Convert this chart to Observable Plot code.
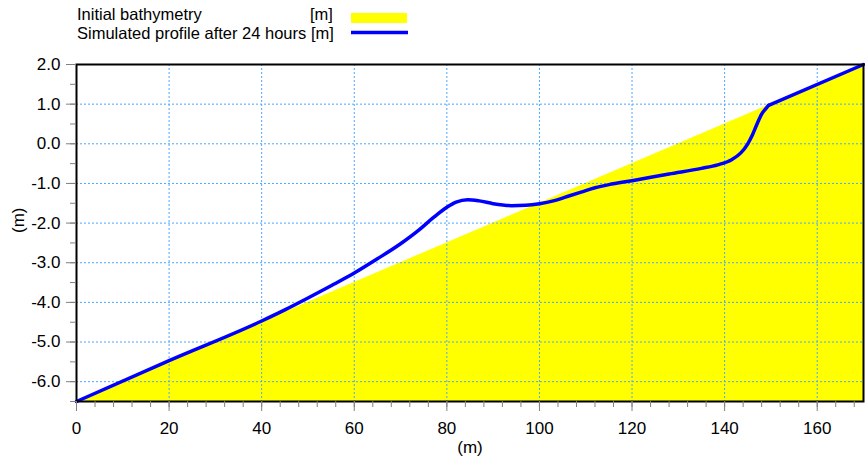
<!DOCTYPE html>
<html><head><meta charset="utf-8">
<script src="https://cdn.jsdelivr.net/npm/d3@7"></script>
<script src="https://cdn.jsdelivr.net/npm/@observablehq/plot@0.6"></script>
<style>
body{margin:0;background:#fff;font-family:"Liberation Sans",Arial,sans-serif;}
#legend{display:block;}
#chart svg{display:block;}
</style></head><body>
<svg id="legend" width="865" height="46" style="font-family:'Liberation Sans',Arial,sans-serif;font-size:16.5px;">
  <text x="77" y="20">Initial bathymetry</text>
  <text x="310" y="20">[m]</text>
  <rect x="351" y="13" width="56" height="10" fill="#ffff00"></rect>
  <text x="77" y="39">Simulated profile after 24 hours [m]</text>
  <line x1="351" x2="408" y1="32.5" y2="32.5" stroke="#0000ff" stroke-width="3.5"></line>
</svg>
<div id="chart"></div>
<script>
// Initial bathymetry (straight slope)
const bathX = [0, 170];
const bathY = [-6.5, 2.0];
// Simulated profile after 24 hours: curved part (smooth) ...
const profX = [0, 20, 40, 45, 50, 55, 60, 65, 70, 74, 77, 80, 82, 84.5, 87, 90, 94, 97, 100, 103, 106, 109, 112, 115, 120, 128, 135, 138.5, 141.5, 143.5, 145, 146, 147, 148, 149, 149.5];
const profY = [-6.5, -5.47, -4.47, -4.19, -3.89, -3.58, -3.26, -2.9, -2.52, -2.17, -1.87, -1.6, -1.47, -1.41, -1.44, -1.51, -1.56, -1.55, -1.51, -1.44, -1.33, -1.22, -1.11, -1.03, -0.93, -0.76, -0.62, -0.53, -0.4, -0.23, 0.0, 0.22, 0.5, 0.75, 0.9, 0.97];
// ... and the straight upper part that sits on the initial slope
const topX = [149.5, 170];
const topY = [0.97, 2.0];
// Axes
const xDomain = [0, 170];
const yDomain = [-6.5, 2.0];
const xMajor = [0, 20, 40, 60, 80, 100, 120, 140, 160];
const xMinor = d3.range(0, 171, 4);
const yMajor = [-6, -5, -4, -3, -2, -1, 0, 1, 2];
const yMinor = d3.range(-6.5, 2.01, 0.5);
const xGrid = xMajor.filter(d => d > xDomain[0] && d < xDomain[1]);
const yGrid = yMajor.filter(d => d > yDomain[0] && d < yDomain[1]);
const axisTitle = ["(m)"];

const bath = bathX.map((x, i) => ({x, y: bathY[i]}));
const prof = profX.map((x, i) => ({x, y: profY[i]}));
const top2 = topX.map((x, i) => ({x, y: topY[i]}));

const gridStyle = {stroke: "#4da6ff", strokeOpacity: 1, strokeWidth: 1, strokeDasharray: "2,2"};
const tickColor = "#808080";

const plot = Plot.plot({
  width: 865, height: 414,
  marginTop: 18, marginBottom: 59, marginLeft: 76, marginRight: 2,
  style: {fontFamily: "'Liberation Sans', Arial, sans-serif", fontSize: "17px", color: "#000", background: "#fff", overflow: "visible"},
  x: {domain: xDomain, label: null},
  y: {domain: yDomain, label: null},
  marks: [
    Plot.areaY(bath, {x: "x", y1: yDomain[0], y2: "y", fill: "#ffff00"}),
    Plot.gridX(xGrid, gridStyle),
    Plot.gridY(yGrid, gridStyle),
    Plot.line(prof, {x: "x", y: "y", stroke: "#0000ff", strokeWidth: 3.5, curve: "monotone-x", strokeLinejoin: "round"}),
    Plot.line(top2, {x: "x", y: "y", stroke: "#0000ff", strokeWidth: 3.5, strokeLinecap: "round"}),
    Plot.frame({stroke: "#000", strokeWidth: 2}),
    Plot.axisX(xMajor, {tickSize: 10, tickPadding: 10, tickFormat: d => String(d), stroke: tickColor, label: null}),
    Plot.axisX(xMinor, {tickSize: 6, tickFormat: () => "", stroke: tickColor, label: null}),
    Plot.axisY(yMajor, {tickSize: 10, tickPadding: 6, tickFormat: d => d.toFixed(1), stroke: tickColor, label: null}),
    Plot.axisY(yMinor, {tickSize: 6, tickFormat: () => "", stroke: tickColor, label: null}),
    Plot.text(axisTitle, {text: d => d, frameAnchor: "bottom", dy: 51, lineAnchor: "bottom"}),
    Plot.text(axisTitle, {text: d => d, frameAnchor: "left", dx: -58, rotate: -90})
  ]
});
document.getElementById("chart").appendChild(plot);
</script>
</body></html>
